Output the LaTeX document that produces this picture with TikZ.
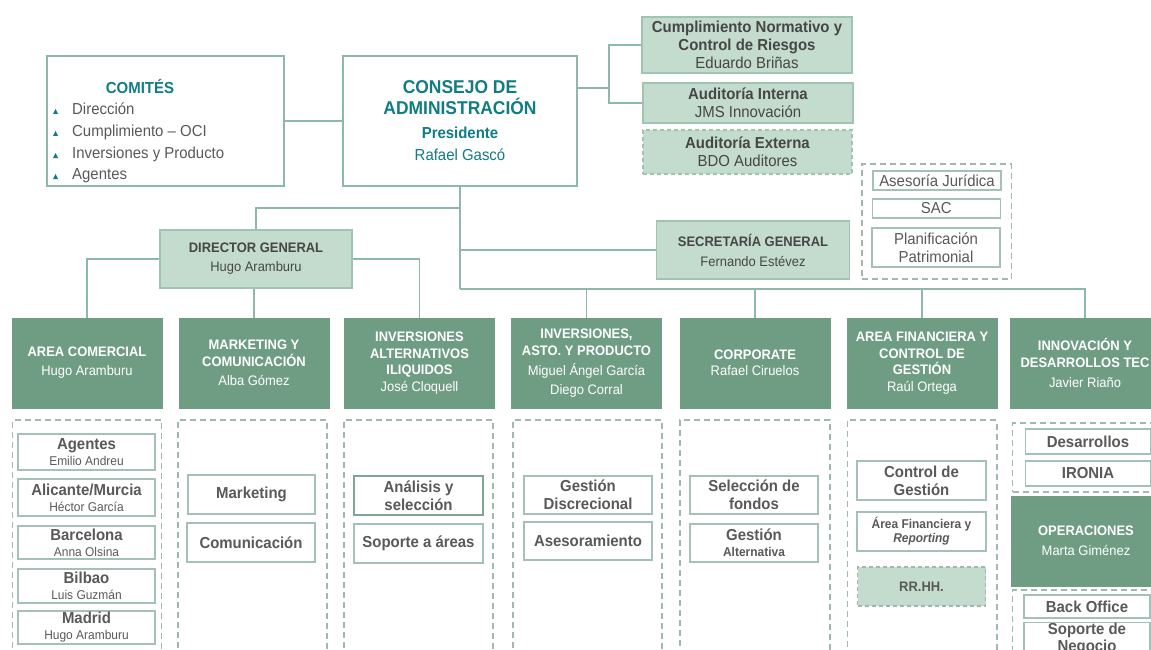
\documentclass[tikz,border=0pt]{standalone}
\usepackage{fontspec}
\setmainfont{Liberation Sans}[Scale=1.06,FakeStretch=0.94]
\definecolor{darkG}{RGB}{111,157,132}
\definecolor{lightG}{RGB}{196,220,205}
\definecolor{lgBord}{RGB}{160,196,178}
\definecolor{lineC}{RGB}{143,184,172}
\definecolor{bordC}{RGB}{165,192,184}
\definecolor{dashC}{RGB}{160,184,174}
\definecolor{txtG}{RGB}{89,89,89}
\definecolor{txtD}{RGB}{70,70,70}
\definecolor{tealT}{RGB}{16,124,132}
\definecolor{anaB}{RGB}{127,165,147}
\tikzset{
 conn/.style={draw=lineC, line width=1.3pt},
 wbox/.style={draw=lineC, fill=white, line width=1.3pt, inner sep=0pt},
 hdr/.style={fill=darkG, draw=darkG, text=white, align=center, inner sep=0pt, minimum width=150pt, minimum height=90pt, font=\fontsize{13}{16.5}\selectfont},
 lgb/.style={fill=lightG, draw=lgBord, line width=1.2pt, text=txtD, align=center, inner sep=0pt},
 dbox/.style={draw=dashC, line width=1.2pt, dash pattern=on 6pt off 4pt, inner sep=0pt},
 sub/.style={draw=bordC, fill=white, line width=1.3pt, text=txtG, align=center, inner sep=0pt, font=\fontsize{15}{18}\selectfont\bfseries},
 sub2/.style={sub, font=\fontsize{12}{16}\selectfont},
 plain/.style={sub, font=\fontsize{15}{18}\selectfont},
 item/.style={anchor=base west, text=txtG, font=\fontsize{15}{18}\selectfont, inner sep=0pt},
 bul/.style={fill=tealT},
}
\begin{document}
\begin{tikzpicture}[x=1pt,y=-1pt]
\path[use as bounding box] (0,0) rectangle (1151,650);
\clip (0,0) rectangle (1151,650);

% ---------- top: comites ----------
\node[wbox, minimum width=237pt, minimum height=130pt] (comites) at (165.5,121) {};
\node[text=tealT, font=\fontsize{15}{18}\selectfont\bfseries, inner sep=0pt] (cmt) at (140,87) {COMITÉS};
\node[item] (c1) at (72,114.5) {Dirección};
\node[item] (c2) at (72,136.5) {Cumplimiento – OCI};
\node[item] (c3) at (72,158.5) {Inversiones y Producto};
\node[item] (c4) at (72,179.5) {Agentes};
\fill[bul] (53,114) -- (58,114) -- (55.5,109) -- cycle;
\fill[bul] (53,136) -- (58,136) -- (55.5,131) -- cycle;
\fill[bul] (53,158) -- (58,158) -- (55.5,153) -- cycle;
\fill[bul] (53,179) -- (58,179) -- (55.5,174) -- cycle;

% ---------- consejo ----------
\node[wbox, minimum width=234pt, minimum height=130pt, align=center, text=tealT, font=\fontsize{15}{22}\selectfont] (consejo) at (460,121)
 {{\fontsize{17.5}{21}\selectfont\bfseries CONSEJO DE}\\[-1pt]{\fontsize{17.5}{21}\selectfont\bfseries ADMINISTRACIÓN}\\[2pt]\textbf{Presidente}\\Rafael Gascó};

% ---------- right boxes ----------
\node[lgb, minimum width=210pt, minimum height=56pt, font=\fontsize{15}{18}\selectfont] (cumpl) at (747,45)
 {\textbf{Cumplimiento Normativo y}\\\textbf{Control de Riesgos}\\Eduardo Briñas};
\node[lgb, minimum width=210pt, minimum height=40pt, font=\fontsize{15}{18}\selectfont] (audint) at (748,103)
 {\textbf{Auditoría Interna}\\JMS Innovación};
\node[lgb, dash pattern=on 4pt off 3pt, minimum width=209pt, minimum height=44pt, font=\fontsize{15}{18}\selectfont] (audext) at (747.5,152)
 {\textbf{Auditoría Externa}\\BDO Auditores};

% ---------- staff group ----------
\node[dbox, minimum width=149.5pt, minimum height=115pt] (staff) at (936.75,221.5) {};
\node[plain, minimum width=128pt, minimum height=19pt] (aseso) at (937,180.5) {Asesoría Jurídica};
\node[plain, minimum width=128pt, minimum height=19pt] (sac) at (936.3,208.5) {SAC};
\node[plain, minimum width=128pt, minimum height=39pt] (planif) at (936,247.5) {Planificación\\Patrimonial};

% ---------- SG, DG ----------
\node[lgb, minimum width=192.5pt, minimum height=58pt, font=\fontsize{13}{16.5}\selectfont] (sg) at (753,250)
 {\textbf{SECRETARÍA GENERAL}\\[3.5pt]Fernando Estévez};
\node[lgb, minimum width=192pt, minimum height=58pt, font=\fontsize{13}{16.5}\selectfont] (dg) at (256,259)
 {\textbf{DIRECTOR GENERAL}\\[2.5pt]Hugo Aramburu};

% ---------- dashed column containers ----------
\node[dbox, minimum width=149pt, minimum height=240pt] (kac) at (87.3,540) {};
\node[dbox, minimum width=149pt, minimum height=240pt] (kmk) at (252.5,540) {};
\node[dbox, minimum width=149pt, minimum height=240pt] (kia) at (418.5,540) {};
\node[dbox, minimum width=149pt, minimum height=240pt] (kip) at (587.5,540) {};
\node[dbox, minimum width=150pt, minimum height=240pt] (kco) at (755,540) {};
\node[dbox, minimum width=149.5pt, minimum height=240pt] (kaf) at (922.2,540) {};
\node[dbox, minimum width=157pt, minimum height=69pt] (kin1) at (1091.3,457.5) {};
\node[dbox, minimum width=157pt, minimum height=90pt] (kin2) at (1091.3,635) {};

% ---------- headers ----------
\node[hdr] (ac) at (87,363) {\textbf{AREA COMERCIAL}\\[2.5pt]Hugo Aramburu};
\node[hdr] (mk) at (254,363) {\textbf{MARKETING Y}\\\textbf{COMUNICACIÓN}\\[3pt]Alba Gómez};
\node[hdr] (ia) at (419.5,363) {\textbf{INVERSIONES}\\\textbf{ALTERNATIVOS}\\\textbf{ILIQUIDOS}\\José Cloquell};
\node[hdr] (ip) at (586.5,363) {\textbf{INVERSIONES,}\\\textbf{ASTO. Y PRODUCTO}\\[3.5pt]Miguel Ángel García\\[2.5pt]Diego Corral};
\node[hdr] (co) at (755,363) {\textbf{CORPORATE}\\Rafael Ciruelos};
\node[hdr] (af) at (922,363) {\textbf{AREA FINANCIERA Y}\\\textbf{CONTROL DE}\\\textbf{GESTIÓN}\\Raúl Ortega};
\node[hdr] (in) at (1085,363) {\textbf{INNOVACIÓN Y}\\\textbf{DESARROLLOS TEC}\\[3.5pt]Javier Riaño};
\node[hdr] (op) at (1086,541) {\textbf{OPERACIONES}\\[3.5pt]Marta Giménez};

% ---------- area comercial sub-boxes ----------
\node[sub2, minimum width=137pt, minimum height=36pt] (s1) at (86.5,452) {{\fontsize{15}{16}\selectfont\bfseries Agentes}\\Emilio Andreu};
\node[sub2, minimum width=137pt, minimum height=37pt] (s2) at (86.5,497.5) {{\fontsize{15}{16}\selectfont\bfseries Alicante/Murcia}\\Héctor García};
\node[sub2, minimum width=137pt, minimum height=33pt] (s3) at (86.5,542.5) {{\fontsize{15}{16}\selectfont\bfseries Barcelona}\\Anna Olsina};
\node[sub2, minimum width=137pt, minimum height=34pt] (s4) at (86.5,586) {{\fontsize{15}{16}\selectfont\bfseries Bilbao}\\Luis Guzmán};
\node[sub2, minimum width=137pt, minimum height=33pt] (s5) at (86.5,627.5) {{\fontsize{15}{16}\selectfont\bfseries Madrid}\\Hugo Aramburu};

% ---------- marketing ----------
\node[sub, minimum width=127pt, minimum height=39pt] (m1) at (251.5,494.5) {Marketing};
\node[sub, minimum width=128pt, minimum height=39pt] (m2) at (251,542.5) {Comunicación};

% ---------- inversiones alternativos ----------
\node[sub, draw=anaB, line width=2pt, minimum width=129pt, minimum height=39pt] (a1) at (418.5,495.5) {Análisis y\\selección};
\node[sub, minimum width=129pt, minimum height=39pt] (a2) at (418.5,543.5) {Soporte a áreas};

% ---------- inversiones asto ----------
\node[sub, minimum width=128pt, minimum height=38pt] (p1) at (588,495) {Gestión\\Discrecional};
\node[sub, minimum width=128pt, minimum height=38pt] (p2) at (588,541) {Asesoramiento};

% ---------- corporate ----------
\node[sub, minimum width=128pt, minimum height=38pt] (r1) at (754,495) {Selección de\\fondos};
\node[sub, minimum width=128pt, minimum height=38pt, font=\fontsize{12}{16}\selectfont\bfseries] (r2) at (754,543) {{\fontsize{15}{16}\selectfont Gestión}\\Alternativa};

% ---------- area financiera ----------
\node[sub, minimum width=129pt, minimum height=39pt] (f1) at (921.5,480.5) {Control de\\Gestión};
\node[sub, minimum width=129pt, minimum height=39pt, font=\fontsize{12}{14}\selectfont\bfseries] (f2) at (921.5,531.5) {Área Financiera y\\\textit{Reporting}};
\node[lgb, draw=dashC, dash pattern=on 4pt off 3pt, minimum width=128pt, minimum height=39pt, font=\fontsize{13}{16}\selectfont\bfseries, text=txtG] (f3) at (921.5,586.5) {RR.HH.};

% ---------- innovacion ----------
\node[sub, minimum width=124.5pt, minimum height=25pt] (i1) at (1088,441.5) {Desarrollos};
\node[sub, minimum width=124.5pt, minimum height=25pt] (i2) at (1088,473.5) {IRONIA};
\node[sub, minimum width=126pt, minimum height=23pt] (i3) at (1087,606.5) {Back Office};
\node[sub, font=\fontsize{15}{17}\selectfont\bfseries, minimum width=126pt, minimum height=29pt] (i4) at (1087,638.5) {Soporte de\\Negocio};

% ---------- connectors ----------
\coordinate (rb) at (609,88);
\coordinate (b1) at (460,208);
\coordinate (hb) at (460,289);
\draw[conn] (comites.east) -- (consejo.west);
\draw[conn] (consejo.east |- rb) -- (rb);
\draw[conn] (cumpl.west) -| (rb) |- (audint.west);
\draw[conn] (consejo.south) -- (hb);
\draw[conn] (b1) -| (dg.north);
\draw[conn] (consejo.south |- sg.west) -- (sg.west);
\draw[conn] (hb) -| (ip.north);
\draw[conn] (hb) -| (co.north);
\draw[conn] (hb) -| (af.north);
\draw[conn] (hb) -| (in.north);
\draw[conn] (dg.west) -| (ac.north);
\draw[conn] (dg.east) -| (ia.north);
\draw[conn] (dg.south -| mk.north) -- (mk.north);
\end{tikzpicture}
\end{document}
